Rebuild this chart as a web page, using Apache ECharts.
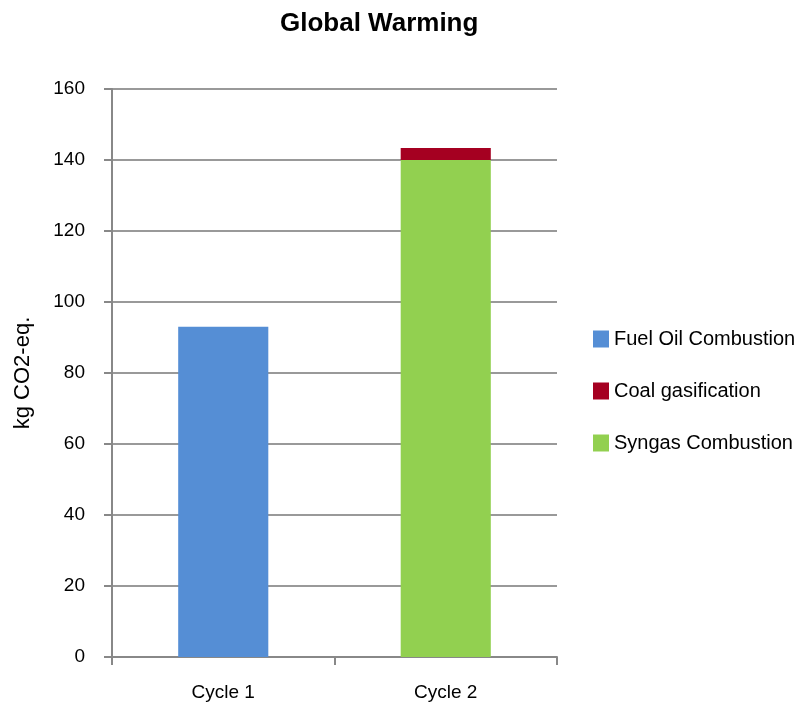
<!DOCTYPE html>
<html>
<head>
<meta charset="utf-8">
<script src="https://cdn.jsdelivr.net/npm/echarts@6/dist/echarts.min.js"></script>
<style>
  html, body { margin: 0; padding: 0; background: #ffffff; }
  #chart { width: 799px; height: 707px; }
</style>
</head>
<body>
<div id="chart"></div>
<script>
// Emission categories and contributions (kg CO2-eq.)
const categories = ['Cycle 1', 'Cycle 2'];
const fuelOilCombustion = [93, null];
const syngasCombustion = [null, 140];
const coalGasification = [null, 3.4];
const yTicks = { min: 0, max: 160, interval: 20 };

const font = 'Liberation Sans, Arial, sans-serif';
const chart = echarts.init(document.getElementById('chart'));

chart.setOption({
  animation: false,
  backgroundColor: '#ffffff',
  title: {
    text: 'Global Warming',
    left: 275,
    top: 6,
    textStyle: { fontFamily: font, fontSize: 26, fontWeight: 'bold', color: '#000000' }
  },
  legend: {
    orient: 'vertical',
    left: 593,
    top: 329,
    padding: 0,
    itemWidth: 16,
    itemHeight: 17,
    itemGap: 32,
    itemTextGap: 10,
    icon: 'rect',
    data: ['Fuel Oil Combustion', 'Coal gasification', 'Syngas Combustion'],
    textStyle: { fontFamily: font, fontSize: 20, color: '#000000', lineHeight: 20 }
  },
  grid: { left: 112, right: 242, top: 89, bottom: 50, containLabel: false },
  xAxis: {
    type: 'category',
    data: categories,
    axisLine: { lineStyle: { color: '#888888', width: 2 } },
    axisTick: { show: true, length: 8, alignWithLabel: false, lineStyle: { color: '#888888', width: 2 } },
    axisLabel: { fontFamily: font, fontSize: 19, color: '#000000', margin: 26 }
  },
  yAxis: {
    type: 'value',
    min: yTicks.min,
    max: yTicks.max,
    interval: yTicks.interval,
    name: 'kg CO2-eq.',
    nameLocation: 'middle',
    nameGap: 78,
    nameTextStyle: { fontFamily: font, fontSize: 22, color: '#000000' },
    axisLine: { show: true, lineStyle: { color: '#888888', width: 2 } },
    axisTick: { show: true, length: 8, lineStyle: { color: '#888888', width: 2 } },
    axisLabel: { fontFamily: font, fontSize: 19, color: '#000000', margin: 27 },
    splitLine: { show: true, lineStyle: { color: '#999999', width: 2 } }
  },
  series: [
    {
      name: 'Fuel Oil Combustion',
      type: 'bar',
      stack: 'total',
      barWidth: '40.5%',
      itemStyle: { color: '#558ED5' },
      data: fuelOilCombustion
    },
    {
      name: 'Syngas Combustion',
      type: 'bar',
      stack: 'total',
      barWidth: '40.5%',
      itemStyle: { color: '#92D050' },
      data: syngasCombustion
    },
    {
      name: 'Coal gasification',
      type: 'bar',
      stack: 'total',
      barWidth: '40.5%',
      itemStyle: { color: '#A50021' },
      data: coalGasification
    }
  ]
});
</script>
</body>
</html>
